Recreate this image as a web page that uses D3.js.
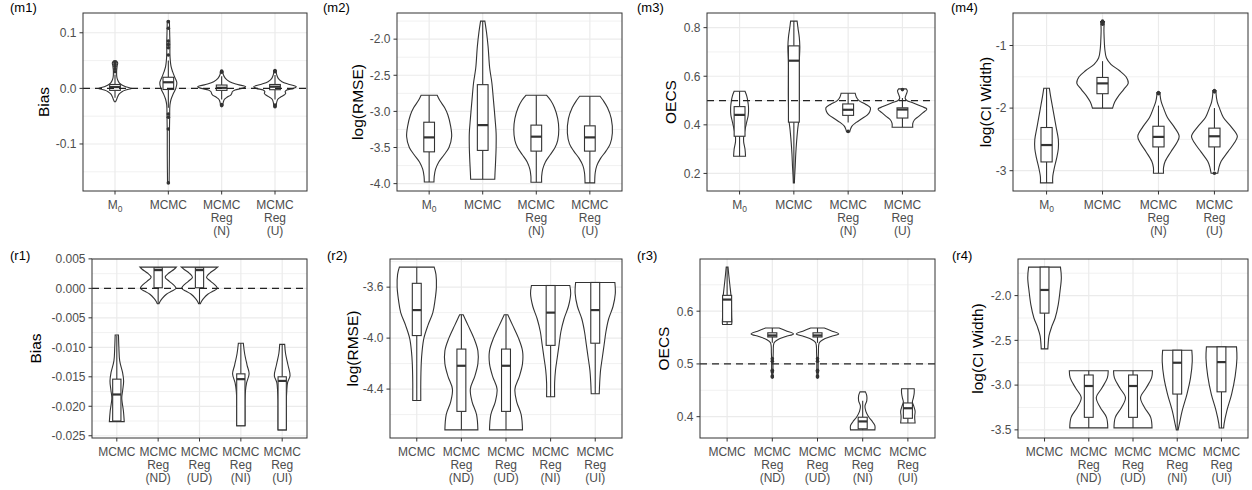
<!DOCTYPE html>
<html lang="en">
<head>
<meta charset="UTF-8">
<title>Violin plots</title>
<script src="https://cdn.jsdelivr.net/npm/d3@7"></script>
<style>
  body { margin: 0; background: #fff; }
  svg { font-family: "Liberation Sans", Arial, sans-serif; }
  .tick-label { font-size: 12px; fill: #4d4d4d; }
  .axis-title { font-size: 15.5px; fill: #000; }
  .tag { font-size: 13px; fill: #000; }
</style>
</head>
<body>
<svg id="chart" width="1252" height="490"></svg>
<script>
// ---------- categories (multi-line axis labels) ----------
const mCats = [["M_0"], ["MCMC"], ["MCMC", "Reg", "(N)"], ["MCMC", "Reg", "(U)"]];
const rCats = [["MCMC"], ["MCMC", "Reg", "(ND)"], ["MCMC", "Reg", "(UD)"], ["MCMC", "Reg", "(NI)"], ["MCMC", "Reg", "(UI)"]];

// violin profiles: [value, half width as fraction of category step]
// boxes: [lower whisker, q1, median, q3, upper whisker]

// ---------- (m1) Bias ----------
const m1Violins = [
  [[0.049,0.03],[0.046,0.05],[0.04,0.04],[0.03,0.03],[0.02,0.035],[0.015,0.05],[0.01,0.08],[0.006,0.13],[0.003,0.2],[0,0.31],[-0.003,0.2],[-0.006,0.13],[-0.01,0.08],[-0.015,0.05],[-0.02,0.03],[-0.024,0.01]],
  [[0.121,0.02],[0.1,0.025],[0.08,0.03],[0.06,0.03],[0.04,0.05],[0.03,0.08],[0.02,0.12],[0.01,0.16],[0,0.14],[-0.01,0.09],[-0.02,0.05],[-0.03,0.03],[-0.05,0.025],[-0.08,0.02],[-0.12,0.02],[-0.17,0.015]],
  [[0.031,0.02],[0.025,0.03],[0.018,0.07],[0.012,0.15],[0.007,0.3],[0.003,0.45],[0,0.38],[-0.003,0.25],[-0.006,0.2],[-0.009,0.19],[-0.012,0.17],[-0.016,0.1],[-0.02,0.05],[-0.025,0.03],[-0.031,0.02]],
  [[0.032,0.02],[0.025,0.03],[0.018,0.06],[0.012,0.13],[0.007,0.27],[0.003,0.4],[0,0.35],[-0.003,0.22],[-0.006,0.19],[-0.009,0.2],[-0.012,0.17],[-0.016,0.1],[-0.02,0.05],[-0.026,0.03],[-0.033,0.02]]
];
const m1Boxes = [[-0.017,-0.0036,0.0024,0.007,0.025],[-0.035,-0.002,0.011,0.02,0.05],[-0.02,-0.0036,0.001,0.006,0.022],[-0.02,-0.0024,0.003,0.007,0.024]];
const m1Outliers = [[0.03,0.035,0.04,0.043,0.046,0.048],[0.12,0.108,0.085,0.079,0.073,0.06,-0.046,-0.052,-0.073,-0.17],[0.029,0.031,-0.029,-0.031],[0.03,0.032,-0.03,-0.033]];
const m1Ticks = [-0.1, 0, 0.1];
const m1TickLabels = ["-0.1", "0.0", "0.1"];

// ---------- (m2) log(RMSE) ----------
const m2Violins = [
  [[-2.776,0.15],[-2.85,0.2],[-2.95,0.29],[-3.05,0.35],[-3.2,0.4],[-3.35,0.42],[-3.5,0.37],[-3.6,0.28],[-3.7,0.18],[-3.8,0.12],[-3.9,0.095],[-3.977,0.09]],
  [[-1.75,0.04],[-1.9,0.07],[-2.1,0.1],[-2.4,0.13],[-2.6,0.17],[-2.84,0.2],[-3.1,0.23],[-3.3,0.25],[-3.5,0.25],[-3.7,0.24],[-3.85,0.23],[-3.94,0.225]],
  [[-2.776,0.19],[-2.85,0.27],[-2.95,0.34],[-3.1,0.4],[-3.25,0.42],[-3.4,0.4],[-3.5,0.35],[-3.6,0.26],[-3.7,0.17],[-3.8,0.12],[-3.9,0.1],[-3.98,0.1]],
  [[-2.79,0.19],[-2.85,0.25],[-2.95,0.33],[-3.1,0.4],[-3.3,0.42],[-3.45,0.38],[-3.55,0.3],[-3.65,0.2],[-3.75,0.13],[-3.85,0.1],[-3.99,0.09]]
];
const m2Boxes = [[-3.977,-3.56,-3.36,-3.15,-2.776],[-3.94,-3.54,-3.19,-2.63,-1.75],[-3.98,-3.55,-3.35,-3.19,-2.776],[-3.99,-3.55,-3.36,-3.2,-2.79]];
const m2Outliers = [[], [], [], []];
const m2Ticks = [-4, -3.5, -3, -2.5, -2];
const m2TickLabels = ["-4.0", "-3.5", "-3.0", "-2.5", "-2.0"];

// ---------- (m3) OECS ----------
const m3Violins = [
  [[0.538,0.1],[0.52,0.13],[0.5,0.15],[0.47,0.165],[0.44,0.16],[0.41,0.13],[0.38,0.1],[0.35,0.075],[0.33,0.075],[0.3,0.1],[0.271,0.11]],
  [[0.827,0.06],[0.8,0.075],[0.76,0.1],[0.72,0.11],[0.66,0.1],[0.6,0.1],[0.5,0.1],[0.42,0.09],[0.38,0.07],[0.33,0.05],[0.28,0.035],[0.23,0.025],[0.19,0.015],[0.161,0.01]],
  [[0.53,0.13],[0.515,0.15],[0.5,0.2],[0.485,0.32],[0.47,0.41],[0.455,0.4],[0.44,0.35],[0.425,0.25],[0.41,0.15],[0.395,0.07],[0.38,0.04],[0.372,0.03]],
  [[0.548,0.07],[0.54,0.09],[0.525,0.07],[0.51,0.05],[0.5,0.08],[0.49,0.2],[0.475,0.36],[0.465,0.45],[0.45,0.38],[0.435,0.3],[0.42,0.22],[0.405,0.19],[0.39,0.19]]
];
const m3Boxes = [[0.271,0.353,0.441,0.475,0.538],[0.161,0.411,0.664,0.725,0.827],[0.41,0.439,0.462,0.486,0.53],[0.39,0.428,0.463,0.47,0.51]];
const m3Outliers = [[], [], [0.373], [0.545]];
const m3Ticks = [0.2, 0.4, 0.6, 0.8];
const m3TickLabels = ["0.2", "0.4", "0.6", "0.8"];

// ---------- (m4) log(CI Width) ----------
const m4Violins = [
  [[-1.684,0.05],[-1.8,0.07],[-1.95,0.1],[-2.1,0.13],[-2.3,0.17],[-2.5,0.21],[-2.65,0.21],[-2.8,0.18],[-2.95,0.14],[-3.1,0.11],[-3.195,0.11]],
  [[-0.616,0.035],[-0.65,0.03],[-0.75,0.025],[-0.9,0.03],[-1.05,0.04],[-1.2,0.07],[-1.3,0.15],[-1.4,0.3],[-1.5,0.42],[-1.6,0.46],[-1.7,0.38],[-1.8,0.29],[-1.9,0.22],[-2.0,0.18]],
  [[-1.75,0.03],[-1.8,0.03],[-1.9,0.05],[-2.0,0.09],[-2.15,0.16],[-2.3,0.28],[-2.45,0.37],[-2.55,0.33],[-2.7,0.22],[-2.85,0.12],[-2.95,0.09],[-3.04,0.09]],
  [[-1.72,0.03],[-1.78,0.03],[-1.9,0.05],[-2.0,0.09],[-2.15,0.16],[-2.3,0.3],[-2.45,0.41],[-2.55,0.36],[-2.7,0.24],[-2.85,0.12],[-2.95,0.08],[-3.04,0.06]]
];
const m4Boxes = [[-3.195,-2.86,-2.59,-2.31,-1.684],[-2.0,-1.77,-1.605,-1.51,-1.25],[-3.04,-2.62,-2.46,-2.29,-1.96],[-3.0,-2.62,-2.45,-2.32,-2.0]];
const m4Outliers = [[], [-0.61,-0.63,-0.66], [-1.75,-1.77], [-1.72,-1.74,-3.04]];
const m4Ticks = [-3, -2, -1];
const m4TickLabels = ["-3", "-2", "-1"];

// ---------- (r1) Bias ----------
const r1Violins = [
  [[-0.0079,0.04],[-0.01,0.05],[-0.0123,0.07],[-0.0143,0.14],[-0.0157,0.165],[-0.0174,0.14],[-0.0186,0.12],[-0.0208,0.16],[-0.0226,0.18]],
  [[0.0036,0.44],[0.0032,0.38],[0.0026,0.26],[0.0019,0.17],[0.0012,0.27],[0.0004,0.4],[0,0.43],[-0.0005,0.32],[-0.001,0.2],[-0.0017,0.1],[-0.0022,0.05],[-0.0026,0.02]],
  [[0.0036,0.44],[0.0032,0.37],[0.0026,0.25],[0.0019,0.17],[0.0012,0.27],[0.0004,0.4],[0,0.43],[-0.0005,0.32],[-0.001,0.2],[-0.0017,0.1],[-0.0022,0.05],[-0.0026,0.02]],
  [[-0.0093,0.06],[-0.011,0.09],[-0.013,0.15],[-0.0145,0.2],[-0.016,0.14],[-0.0175,0.11],[-0.019,0.1],[-0.021,0.1],[-0.0233,0.1]],
  [[-0.0095,0.06],[-0.011,0.08],[-0.013,0.14],[-0.0148,0.19],[-0.016,0.13],[-0.0175,0.11],[-0.019,0.1],[-0.0215,0.1],[-0.024,0.1]]
];
const r1Boxes = [[-0.0226,-0.0225,-0.018,-0.0154,-0.008],[-0.0026,0.0001,0.0031,0.0035,0.0036],[-0.0026,0.0001,0.0031,0.0035,0.0036],[-0.0233,-0.0233,-0.0154,-0.0145,-0.0093],[-0.024,-0.024,-0.0157,-0.015,-0.0095]];
const r1Outliers = [[], [], [], [], []];
const r1Ticks = [-0.025, -0.02, -0.015, -0.01, -0.005, 0, 0.005];
const r1TickLabels = ["-0.025", "-0.020", "-0.015", "-0.010", "-0.005", "0.000", "0.005"];

// ---------- (r2) log(RMSE) ----------
const r2Violins = [
  [[-3.443,0.39],[-3.5,0.43],[-3.6,0.44],[-3.7,0.41],[-3.8,0.36],[-3.9,0.25],[-4.0,0.16],[-4.1,0.12],[-4.2,0.1],[-4.35,0.09],[-4.49,0.09]],
  [[-3.817,0.04],[-3.9,0.15],[-4.0,0.28],[-4.1,0.37],[-4.2,0.37],[-4.3,0.3],[-4.4,0.2],[-4.5,0.24],[-4.6,0.34],[-4.72,0.37]],
  [[-3.817,0.04],[-3.9,0.15],[-4.0,0.28],[-4.1,0.37],[-4.2,0.37],[-4.3,0.3],[-4.4,0.2],[-4.5,0.24],[-4.6,0.34],[-4.72,0.37]],
  [[-3.587,0.43],[-3.65,0.45],[-3.75,0.4],[-3.85,0.3],[-3.95,0.23],[-4.05,0.19],[-4.15,0.15],[-4.25,0.11],[-4.35,0.09],[-4.46,0.09]],
  [[-3.563,0.44],[-3.65,0.45],[-3.75,0.4],[-3.85,0.3],[-3.95,0.24],[-4.05,0.2],[-4.15,0.16],[-4.25,0.12],[-4.35,0.1],[-4.437,0.09]]
];
const r2Boxes = [[-4.49,-3.98,-3.78,-3.57,-3.443],[-4.72,-4.575,-4.217,-4.086,-3.817],[-4.72,-4.575,-4.217,-4.086,-3.817],[-4.46,-4.057,-3.8,-3.587,-3.587],[-4.437,-4.04,-3.78,-3.563,-3.563]];
const r2Outliers = [[], [], [], [], []];
const r2Ticks = [-4.4, -4.0, -3.6];
const r2TickLabels = ["-4.4", "-4.0", "-3.6"];

// ---------- (r3) OECS ----------
const r3Violins = [
  [[0.6835,0.02],[0.67,0.035],[0.65,0.06],[0.63,0.085],[0.61,0.095],[0.59,0.1],[0.578,0.105],[0.5747,0.1]],
  [[0.568,0.15],[0.563,0.3],[0.557,0.47],[0.552,0.3],[0.546,0.12],[0.54,0.04],[0.52,0.02],[0.5,0.015],[0.485,0.015],[0.475,0.01]],
  [[0.568,0.15],[0.563,0.3],[0.557,0.47],[0.552,0.3],[0.546,0.12],[0.54,0.04],[0.52,0.02],[0.5,0.015],[0.485,0.015],[0.475,0.01]],
  [[0.447,0.06],[0.44,0.09],[0.43,0.09],[0.42,0.05],[0.41,0.07],[0.4,0.13],[0.39,0.22],[0.383,0.27],[0.375,0.27]],
  [[0.453,0.14],[0.445,0.14],[0.435,0.12],[0.428,0.1],[0.42,0.13],[0.41,0.16],[0.4,0.15],[0.388,0.16]]
];
const r3Boxes = [[0.575,0.58,0.622,0.63,0.6835],[0.54,0.551,0.554,0.559,0.568],[0.54,0.551,0.554,0.559,0.568],[0.375,0.377,0.391,0.399,0.43],[0.388,0.397,0.416,0.426,0.453]];
const r3Outliers = [[], [0.51,0.505,0.488,0.485,0.477,0.475], [0.51,0.505,0.488,0.485,0.477,0.475], [], []];
const r3Ticks = [0.4, 0.5, 0.6];
const r3TickLabels = ["0.4", "0.5", "0.6"];

// ---------- (r4) log(CI Width) ----------
const r4Violins = [
  [[-1.682,0.36],[-1.8,0.38],[-1.95,0.35],[-2.1,0.31],[-2.25,0.24],[-2.35,0.16],[-2.45,0.1],[-2.55,0.08],[-2.595,0.075]],
  [[-2.84,0.44],[-2.92,0.42],[-3.03,0.3],[-3.14,0.17],[-3.25,0.26],[-3.36,0.4],[-3.478,0.43]],
  [[-2.84,0.44],[-2.92,0.42],[-3.03,0.3],[-3.14,0.17],[-3.25,0.26],[-3.36,0.4],[-3.478,0.43]],
  [[-2.61,0.33],[-2.73,0.34],[-2.92,0.3],[-3.1,0.22],[-3.29,0.11],[-3.43,0.05],[-3.5,0.02]],
  [[-2.573,0.34],[-2.7,0.35],[-2.9,0.31],[-3.1,0.23],[-3.29,0.12],[-3.43,0.06],[-3.48,0.05]]
];
const r4Boxes = [[-2.595,-2.196,-1.937,-1.682,-1.682],[-3.478,-3.36,-3.01,-2.887,-2.84],[-3.478,-3.36,-3.01,-2.887,-2.84],[-3.5,-3.1,-2.75,-2.61,-2.61],[-3.48,-3.075,-2.743,-2.573,-2.573]];
const r4Outliers = [[], [], [], [], []];
const r4Ticks = [-3.5, -3.0, -2.5, -2.0];
const r4TickLabels = ["-3.5", "-3.0", "-2.5", "-2.0"];

const refLines = { m1: 0, m3: 0.5, r1: 0, r3: 0.5 };

// ---------- layout ----------
const panels = [
  {id: "m1", cats: mCats, violins: m1Violins, boxes: m1Boxes, outliers: m1Outliers, ticks: m1Ticks, labels: m1TickLabels, title: "Bias",
   left: 83, right: 307, top: 13, bottom: 191, titleX: 43, tagX: 10, tagY: 11.5},
  {id: "m2", cats: mCats, violins: m2Violins, boxes: m2Boxes, outliers: m2Outliers, ticks: m2Ticks, labels: m2TickLabels, title: "log(RMSE)",
   left: 397, right: 622, top: 13, bottom: 191, titleX: 357, tagX: 323, tagY: 11.5},
  {id: "m3", cats: mCats, violins: m3Violins, boxes: m3Boxes, outliers: m3Outliers, ticks: m3Ticks, labels: m3TickLabels, title: "OECS",
   left: 707, right: 935, top: 13, bottom: 191, titleX: 670, tagX: 637, tagY: 11.5},
  {id: "m4", cats: mCats, violins: m4Violins, boxes: m4Boxes, outliers: m4Outliers, ticks: m4Ticks, labels: m4TickLabels, title: "log(CI Width)",
   left: 1013, right: 1248, top: 13, bottom: 191, titleX: 985, tagX: 951, tagY: 11.5},
  {id: "r1", cats: rCats, violins: r1Violins, boxes: r1Boxes, outliers: r1Outliers, ticks: r1Ticks, labels: r1TickLabels, title: "Bias",
   left: 92, right: 307, top: 259, bottom: 438, titleX: 35, tagX: 10, tagY: 259.5},
  {id: "r2", cats: rCats, violins: r2Violins, boxes: r2Boxes, outliers: r2Outliers, ticks: r2Ticks, labels: r2TickLabels, title: "log(RMSE)",
   left: 390, right: 622, top: 259, bottom: 438, titleX: 352, tagX: 327, tagY: 259.5},
  {id: "r3", cats: rCats, violins: r3Violins, boxes: r3Boxes, outliers: r3Outliers, ticks: r3Ticks, labels: r3TickLabels, title: "OECS",
   left: 700, right: 935, top: 259, bottom: 438, titleX: 663, tagX: 637, tagY: 259.5},
  {id: "r4", cats: rCats, violins: r4Violins, boxes: r4Boxes, outliers: r4Outliers, ticks: r4Ticks, labels: r4TickLabels, title: "log(CI Width)",
   left: 1018, right: 1248, top: 259, bottom: 438, titleX: 977, tagX: 952, tagY: 259.5}
];

const svg = d3.select("#chart");
const ink = "#333333";
const gridColor = "#ebebeb";
const lw = 1.1;

panels.forEach(p => {
  const g = svg.append("g").attr("class", "panel " + p.id);

  // y domain: data extent with 5% expansion (like ggplot)
  const vals = [];
  p.violins.forEach(v => v.forEach(d => vals.push(d[0])));
  p.boxes.forEach(b => vals.push(...b));
  p.outliers.forEach(o => vals.push(...o));
  if (refLines[p.id] !== undefined) vals.push(refLines[p.id]);
  const [lo, hi] = d3.extent(vals);
  const pad = (hi - lo) * 0.05;

  const y = d3.scaleLinear().domain([lo - pad, hi + pad]).range([p.bottom, p.top]);
  const x = d3.scalePoint().domain(d3.range(p.cats.length)).range([p.left, p.right]).padding(0.6);
  const step = x.step();

  // grid
  const tstep = p.ticks[1] - p.ticks[0];
  const minor = [];
  for (let t = p.ticks[0] - tstep / 2; t <= hi + pad; t += tstep) {
    if (t >= lo - pad) minor.push(t);
  }
  g.selectAll(".minor").data(minor).enter().append("line")
    .attr("x1", p.left).attr("x2", p.right)
    .attr("y1", d => y(d)).attr("y2", d => y(d))
    .attr("stroke", gridColor).attr("stroke-width", 0.7);
  g.selectAll(".major-y").data(p.ticks).enter().append("line")
    .attr("x1", p.left).attr("x2", p.right)
    .attr("y1", d => y(d)).attr("y2", d => y(d))
    .attr("stroke", gridColor).attr("stroke-width", 1.2);
  g.selectAll(".major-x").data(x.domain()).enter().append("line")
    .attr("x1", d => x(d)).attr("x2", d => x(d))
    .attr("y1", p.top).attr("y2", p.bottom)
    .attr("stroke", gridColor).attr("stroke-width", 1.2);

  // violins
  p.violins.forEach((prof, i) => {
    const cx = x(i);
    const area = d3.area()
      .curve(d3.curveCatmullRom.alpha(0.5))
      .y(d => y(d[0]))
      .x0(d => cx - d[1] * step)
      .x1(d => cx + d[1] * step);
    g.append("path").attr("d", area(prof))
      .attr("fill", "#fff").attr("stroke", ink).attr("stroke-width", lw);
  });

  // boxplots
  const bw = 0.2 * step;
  p.boxes.forEach((b, i) => {
    const cx = x(i);
    g.append("line").attr("x1", cx).attr("x2", cx).attr("y1", y(b[3])).attr("y2", y(b[4]))
      .attr("stroke", ink).attr("stroke-width", lw);
    g.append("line").attr("x1", cx).attr("x2", cx).attr("y1", y(b[0])).attr("y2", y(b[1]))
      .attr("stroke", ink).attr("stroke-width", lw);
    g.append("rect").attr("x", cx - bw / 2).attr("width", bw)
      .attr("y", y(b[3])).attr("height", Math.max(0.5, y(b[1]) - y(b[3])))
      .attr("fill", "#fff").attr("stroke", ink).attr("stroke-width", lw);
    g.append("line").attr("x1", cx - bw / 2).attr("x2", cx + bw / 2)
      .attr("y1", y(b[2])).attr("y2", y(b[2]))
      .attr("stroke", ink).attr("stroke-width", 2.2);
    g.selectAll(null).data(p.outliers[i]).enter().append("circle")
      .attr("cx", cx).attr("cy", d => y(d)).attr("r", 1.8)
      .attr("fill", ink);
  });

  // reference line
  if (refLines[p.id] !== undefined) {
    g.append("line").attr("x1", p.left).attr("x2", p.right)
      .attr("y1", y(refLines[p.id])).attr("y2", y(refLines[p.id]))
      .attr("stroke", "#222").attr("stroke-width", 1.3).attr("stroke-dasharray", "7,5");
  }

  // border
  g.append("rect").attr("x", p.left).attr("y", p.top)
    .attr("width", p.right - p.left).attr("height", p.bottom - p.top)
    .attr("fill", "none").attr("stroke", ink).attr("stroke-width", 1);

  // y ticks and labels
  p.ticks.forEach((t, i) => {
    g.append("line").attr("x1", p.left - 3.5).attr("x2", p.left)
      .attr("y1", y(t)).attr("y2", y(t)).attr("stroke", ink).attr("stroke-width", 1);
    g.append("text").attr("class", "tick-label")
      .attr("x", p.left - 6.5).attr("y", y(t)).attr("dy", "0.36em")
      .attr("text-anchor", "end").text(p.labels[i]);
  });

  // x ticks and labels
  p.cats.forEach((lines, i) => {
    const cx = x(i);
    g.append("line").attr("x1", cx).attr("x2", cx)
      .attr("y1", p.bottom).attr("y2", p.bottom + 3.5).attr("stroke", ink).attr("stroke-width", 1);
    lines.forEach((ln, j) => {
      const t = g.append("text").attr("class", "tick-label")
        .attr("x", cx).attr("y", p.bottom + 18 + j * 13.2)
        .attr("text-anchor", "middle");
      if (ln.includes("_")) {
        const [base, sub] = ln.split("_");
        t.append("tspan").text(base);
        t.append("tspan").attr("font-size", "8.5px").attr("dy", "3").text(sub);
      } else {
        t.text(ln);
      }
    });
  });

  // axis title
  g.append("text").attr("class", "axis-title")
    .attr("transform", `translate(${p.titleX},${(p.top + p.bottom) / 2}) rotate(-90)`)
    .attr("dy", "0.36em").attr("text-anchor", "middle").text(p.title);

  // tag
  g.append("text").attr("class", "tag").attr("x", p.tagX).attr("y", p.tagY).text(`(${p.id})`);
});
</script>
</body>
</html>
